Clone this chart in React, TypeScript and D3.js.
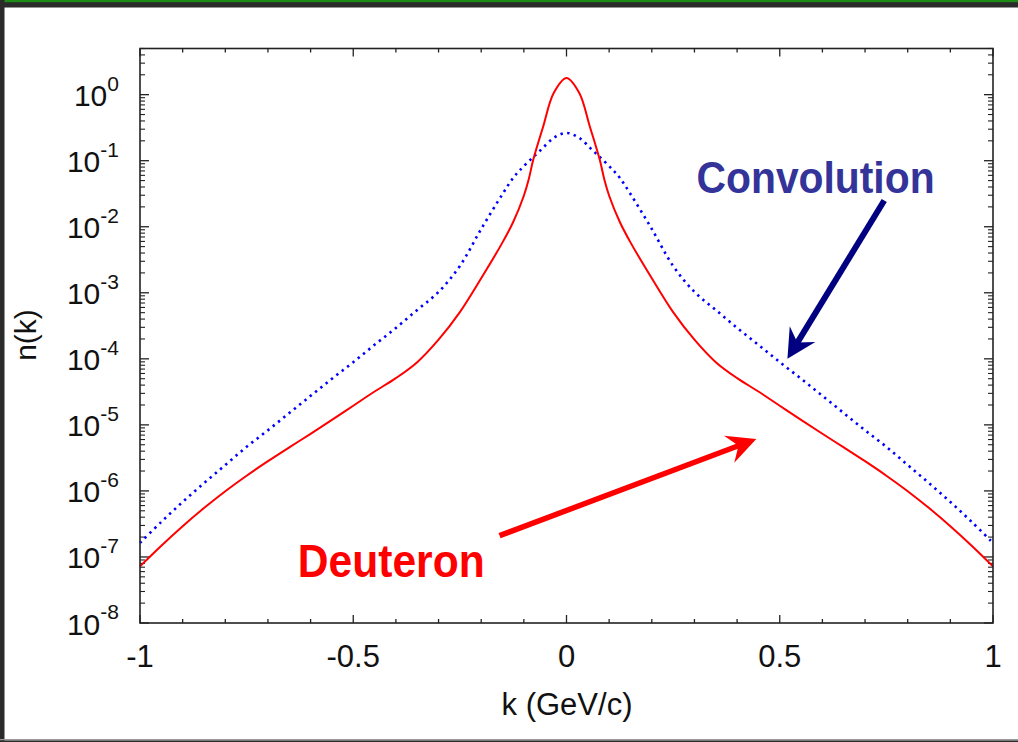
import React from "react";
import * as d3 from "d3";

// Momentum distribution n(k) of the deuteron and of its convolution
const deuteronK = [
  -1.0, -0.95, -0.9, -0.85, -0.8, -0.75, -0.7, -0.65, -0.6, -0.55, -0.5, -0.45, -0.4, -0.35, -0.3, -0.25,
  -0.2, -0.15, -0.125, -0.1, -0.089, -0.078, -0.055, -0.03, 0,
  0.03, 0.055, 0.078, 0.089, 0.1, 0.125, 0.15, 0.2, 0.25, 0.3, 0.35, 0.4, 0.45, 0.5, 0.55, 0.6, 0.65, 0.7,
  0.75, 0.8, 0.85, 0.9, 0.95, 1.0,
];
const deuteronN = [
  7.2e-8, 1.48e-7, 2.92e-7, 5.5e-7, 9.9e-7, 1.7e-6, 2.82e-6, 4.57e-6, 7.33e-6, 1.19e-5, 1.95e-5, 3.2e-5,
  5.1e-5, 8.9e-5, 1.95e-4, 5.1e-4, 1.66e-3, 5.8e-3, 0.0118, 0.0295, 0.051, 0.103, 0.324, 1.06, 1.79,
  1.06, 0.324, 0.103, 0.051, 0.0295, 0.0118, 5.8e-3, 1.66e-3, 5.1e-4, 1.95e-4, 8.9e-5, 5.1e-5, 3.2e-5,
  1.95e-5, 1.19e-5, 7.33e-6, 4.57e-6, 2.82e-6, 1.7e-6, 9.9e-7, 5.5e-7, 2.92e-7, 1.48e-7, 7.2e-8,
];

const convolutionK = [
  -1.0, -0.95, -0.9, -0.85, -0.8, -0.75, -0.7, -0.65, -0.6, -0.55, -0.5, -0.45, -0.4, -0.35, -0.3, -0.25,
  -0.2, -0.15, -0.125, -0.11, -0.085, -0.06, -0.03, 0,
  0.03, 0.06, 0.085, 0.11, 0.125, 0.15, 0.2, 0.25, 0.3, 0.35, 0.4, 0.45, 0.5, 0.55, 0.6, 0.65, 0.7,
  0.75, 0.8, 0.85, 0.9, 0.95, 1.0,
];
const convolutionN = [
  1.63e-7, 3.4e-7, 6.8e-7, 1.31e-6, 2.47e-6, 4.65e-6, 8.3e-6, 1.51e-5, 2.75e-5, 5.0e-5, 8.9e-5, 1.63e-4,
  2.94e-4, 5.5e-4, 1.03e-3, 2.55e-3, 9.25e-3, 0.0313, 0.055, 0.071, 0.103, 0.146, 0.221, 0.263,
  0.221, 0.146, 0.103, 0.071, 0.055, 0.0313, 9.25e-3, 2.55e-3, 1.03e-3, 5.5e-4, 2.94e-4, 1.63e-4, 8.9e-5,
  5.0e-5, 2.75e-5, 1.51e-5, 8.3e-6, 4.65e-6, 2.47e-6, 1.31e-6, 6.8e-7, 3.4e-7, 1.63e-7,
];

const xTickValues = [-1, -0.5, 0, 0.5, 1];
const xTickLabels = ["-1", "-0.5", "0", "0.5", "1"];
const yDecadeExponents = [0, -1, -2, -3, -4, -5, -6, -7, -8];

const W = 1018;
const H = 742;
const M = { left: 140, right: 993, top: 48.5, bottom: 623 };

const x = d3.scaleLinear().domain([-1, 1]).range([M.left, M.right]);
const y = d3.scaleLog().domain([1e-8, 5]).range([M.bottom, M.top]);

const FONT = "'Liberation Sans', Arial, Helvetica, sans-serif";

function Arrow({ x1, y1, x2, y2, color, width, headLen, headHalf, notch }) {
  const dx = x2 - x1;
  const dy = y2 - y1;
  const len = Math.hypot(dx, dy);
  const ux = dx / len;
  const uy = dy / len;
  const px = -uy;
  const py = ux;
  const bx = x2 - ux * headLen;
  const by = y2 - uy * headLen;
  const nx = x2 - ux * notch;
  const ny = y2 - uy * notch;
  const head = [
    [x2, y2],
    [bx + px * headHalf, by + py * headHalf],
    [nx, ny],
    [bx - px * headHalf, by - py * headHalf],
  ];
  return (
    <g>
      <line x1={x1} y1={y1} x2={nx + ux * 2} y2={ny + uy * 2} stroke={color} strokeWidth={width} />
      <polygon points={head.map((p) => p.join(",")).join(" ")} fill={color} />
    </g>
  );
}

export default function App() {
  const line = d3
    .line<[number, number]>()
    .x((d) => x(d[0]))
    .y((d) => y(d[1]))
    .curve(d3.curveCatmullRom.alpha(0.5));

  const deuteronPath = line(deuteronK.map((k, i) => [k, deuteronN[i]]));
  const convolutionPath = line(convolutionK.map((k, i) => [k, convolutionN[i]]));

  // minor x ticks every 0.1
  const xMinor = d3.range(-10, 11).map((i) => i / 10);

  // log ticks: majors at decades, minors at 2..9 within the domain
  const yMinor: number[] = [];
  for (let e = -8; e <= 0; e++) {
    for (let m = 2; m <= 9; m++) {
      const v = m * Math.pow(10, e);
      if (v <= 5) yMinor.push(v);
    }
  }

  return (
    <>
      <style>{`body{margin:0}`}</style>
      <svg width={W} height={H} style={{ display: "block" }} fontFamily={FONT}>
        <rect x={0} y={0} width={W} height={H} fill="#ffffff" />
        {/* window frame */}
        <rect x={0} y={0} width={W} height={7.5} fill="#2b2b2b" />
        <rect x={0} y={0} width={W} height={2.2} fill="#1c8a14" />
        <rect x={0} y={0} width={4.5} height={H} fill="#2b2b2b" />
        <rect x={0} y={739} width={W} height={1.5} fill="#9a9a9a" />
        <rect x={0} y={740.5} width={W} height={1.5} fill="#2b2b2b" />

        {/* ticks on x axis (bottom and top) */}
        {xMinor.map((v) => {
          const major = Math.abs(v * 2 - Math.round(v * 2)) < 1e-9;
          const len = major ? 8 : 4;
          return (
            <g key={"xt" + v} stroke="#222" strokeWidth={1.3}>
              <line x1={x(v)} x2={x(v)} y1={M.bottom} y2={M.bottom - len} />
              <line x1={x(v)} x2={x(v)} y1={M.top} y2={M.top + len} />
            </g>
          );
        })}

        {/* ticks on y axis (left and right) */}
        {yDecadeExponents.map((e) => {
          const v = Math.pow(10, e);
          return (
            <g key={"yM" + e} stroke="#222" strokeWidth={1.3}>
              <line x1={M.left} x2={M.left + 9} y1={y(v)} y2={y(v)} />
              <line x1={M.right} x2={M.right - 9} y1={y(v)} y2={y(v)} />
            </g>
          );
        })}
        {yMinor.map((v, i) => (
          <g key={"ym" + i} stroke="#222" strokeWidth={1.1}>
            <line x1={M.left} x2={M.left + 5} y1={y(v)} y2={y(v)} />
            <line x1={M.right} x2={M.right - 5} y1={y(v)} y2={y(v)} />
          </g>
        ))}

        {/* curves */}
        <path d={convolutionPath ?? ""} fill="none" stroke="#0000ff" strokeWidth={2.6} strokeDasharray="2.4 4.4" />
        <path d={deuteronPath ?? ""} fill="none" stroke="#ff0000" strokeWidth={2} />

        {/* plot frame */}
        <rect
          x={M.left}
          y={M.top}
          width={M.right - M.left}
          height={M.bottom - M.top}
          fill="none"
          stroke="#222"
          strokeWidth={1.6}
        />

        {/* y tick labels */}
        {yDecadeExponents.map((e) => (
          <text key={"yl" + e} x={119} y={y(Math.pow(10, e)) + 11.5} textAnchor="end" fontSize={30} fill="#111">
            10
            <tspan fontSize={21} dy={-15.5}>
              {String(e)}
            </tspan>
          </text>
        ))}

        {/* x tick labels */}
        {xTickValues.map((v, i) => (
          <text key={"xl" + v} x={x(v)} y={667} textAnchor="middle" fontSize={31} fill="#111">
            {xTickLabels[i]}
          </text>
        ))}

        {/* axis titles */}
        <text x={567} y={715} textAnchor="middle" fontSize={31} fill="#111">
          k (GeV/c)
        </text>
        <text transform="translate(36,335) rotate(-90)" textAnchor="middle" fontSize={30} fill="#111">
          n(k)
        </text>

        {/* annotations */}
        <text
          x={x(0.584)}
          y={y(0.032)}
          textAnchor="middle"
          fontSize={45}
          fontWeight="bold"
          fill="#333399"
          textLength={238}
          lengthAdjust="spacingAndGlyphs"
        >
          Convolution
        </text>
        <Arrow
          x1={x(0.745)}
          y1={y(0.025)}
          x2={x(0.518)}
          y2={y(1e-4)}
          color="#000080"
          width={6}
          headLen={29}
          headHalf={15}
          notch={19}
        />

        <text
          x={x(-0.411)}
          y={y(5e-8)}
          textAnchor="middle"
          fontSize={46}
          fontWeight="bold"
          fill="#ff0000"
          textLength={187}
          lengthAdjust="spacingAndGlyphs"
        >
          Deuteron
        </text>
        <Arrow
          x1={x(-0.157)}
          y1={y(2.1e-7)}
          x2={x(0.445)}
          y2={y(6.1e-6)}
          color="#ff0000"
          width={5.5}
          headLen={29}
          headHalf={14.5}
          notch={19}
        />
      </svg>
    </>
  );
}
